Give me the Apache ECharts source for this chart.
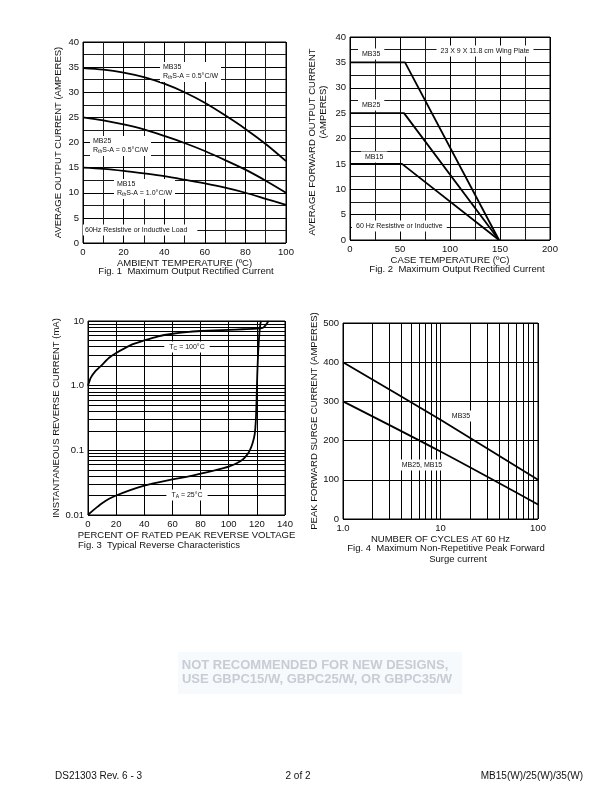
<!DOCTYPE html>
<html><head><meta charset="utf-8">
<script src="https://cdn.jsdelivr.net/npm/echarts@6/dist/echarts.min.js"></script>
<style>html,body{margin:0;padding:0;background:#fff}#c{width:612px;height:792px}</style>
</head><body><div id="c"></div>
<script>
// ---------- Fig. 1 data ----------
const fig1Temp = [0, 10, 20, 30, 40, 50, 60, 70, 80, 90, 100];
const fig1MB35 = [34.8, 34.5, 33.9, 33.0, 31.7, 30.0, 27.9, 25.4, 22.7, 19.7, 16.3];
const fig1MB25 = [25.0, 24.4, 23.6, 22.6, 21.3, 19.9, 18.3, 16.5, 14.6, 12.4, 10.0];
const fig1MB15 = [15.0, 14.75, 14.35, 13.85, 13.3, 12.6, 11.85, 11.0, 10.0, 8.8, 7.6];
// ---------- Fig. 2 data ----------
const fig2MB35 = [[0, 35], [55, 35], [149, 0]];
const fig2MB25 = [[0, 25], [54, 25], [149, 0]];
const fig2MB15 = [[0, 15], [52, 15], [149, 0]];
// ---------- Fig. 3 data ----------
const fig3Tc100 = [[0, 1.0], [2, 1.33], [5, 1.65], [10, 2.1], [15, 2.7], [20, 3.2], [30, 4.2], [40, 5.0],
  [50, 5.8], [60, 6.35], [70, 6.75], [80, 7.0], [90, 7.15], [100, 7.3], [110, 7.45], [120, 7.6],
  [124, 7.8], [126, 8.5], [128.3, 10]];
const fig3Ta25 = [[0, 0.01], [3, 0.0115], [6, 0.013], [10, 0.0152], [15, 0.0178], [20, 0.02], [30, 0.0243],
  [40, 0.0285], [50, 0.032], [60, 0.0355], [70, 0.039], [80, 0.0435], [90, 0.049], [100, 0.056],
  [105, 0.062], [110, 0.072], [113, 0.085], [115, 0.1], [117, 0.13], [118.5, 0.18], [119.3, 0.3],
  [119.8, 0.6], [120.3, 1.5], [121, 3.5], [121.8, 6.5], [122.5, 9], [123, 10]];
const fig3MinorY = [0.02, 0.03, 0.04, 0.05, 0.06, 0.07, 0.08, 0.09,
  0.2, 0.3, 0.4, 0.5, 0.6, 0.7, 0.8, 0.9, 2, 3, 4, 5, 6, 7, 8, 9];
const fig3TickLabels = ['0.01', '0.1', '1.0', '10'];
// ---------- Fig. 4 data ----------
const fig4MB35 = [[1, 400], [10, 253], [100, 100]];
const fig4MB25 = [[1, 300], [10, 172], [100, 37]];
const fig4MinorX = [2, 3, 4, 5, 6, 7, 8, 9, 20, 30, 40, 50, 60, 70, 80, 90];
const fig4TickLabels = ['1.0', '10', '100'];

const FONT = 'Liberation Sans, Arial, Helvetica, sans-serif';
const INK = '#111';
const chart = echarts.init(document.getElementById('c'), null, { renderer: 'canvas' });

const gridLine = { show: true, lineStyle: { color: '#000', width: 1 } };
const minorLine = { show: true, lineStyle: { color: '#1a1a1a', width: 1 } };
const lbl = { color: INK, fontSize: 9.5, fontFamily: FONT };
const nameStyle = { color: INK, fontSize: 9.5, fontFamily: FONT };

function baseAxis(extra) {
  return Object.assign({
    axisLine: { show: false }, axisTick: { show: false },
    splitLine: gridLine, axisLabel: Object.assign({ margin: 4 }, lbl),
    nameTextStyle: nameStyle, nameLocation: 'middle'
  }, extra);
}
function curve(data, xi, extra) {
  return Object.assign({
    type: 'line', xAxisIndex: xi, yAxisIndex: xi, data: data, showSymbol: false,
    lineStyle: { color: '#000', width: 1.8 }, silent: true, animation: false, z: 5
  }, extra);
}
function minorMarks(list, key) {
  return {
    silent: true, symbol: ['none', 'none'], animation: false,
    label: { show: false },
    lineStyle: { color: '#000', width: 1, type: 'solid' },
    emphasis: { disabled: true },
    data: list.map(v => ({ [key]: v }))
  };
}
function boxText(text, x, y, opts) {
  return {
    type: 'text', z: 100,
    style: Object.assign({
      text: text, x: x, y: y, fill: INK, fontSize: 7, fontFamily: FONT,
      backgroundColor: '#fff', padding: [1, 3], lineHeight: 9,
      align: 'left', verticalAlign: 'middle',
      rich: { s: { fontSize: 5, fontFamily: FONT, fill: INK, padding: [3, 0, 0, 0], lineHeight: 9 } }
    }, opts || {})
  };
}
function plainText(text, x, y, opts) {
  return {
    type: 'text', z: 100,
    style: Object.assign({ text: text, x: x, y: y, fill: INK, fontSize: 9.5, fontFamily: FONT,
      align: 'center', verticalAlign: 'middle' }, opts || {})
  };
}
function vertText(text, x, y) {
  return {
    type: 'text', z: 100, x: x, y: y, rotation: Math.PI / 2,
    style: { text: text, x: 0, y: 0, fill: INK, fontSize: 9.5, fontFamily: FONT,
      align: 'center', verticalAlign: 'middle' }
  };
}

const option = {
  backgroundColor: '#fff',
  animation: false,
  grid: [
    { left: 83, top: 42, width: 203, height: 201, show: true, borderColor: '#000', borderWidth: 1 },
    { left: 350, top: 37, width: 200, height: 203, show: true, borderColor: '#000', borderWidth: 1 },
    { left: 88, top: 321, width: 197, height: 194, show: true, borderColor: '#000', borderWidth: 1 },
    { left: 343, top: 323, width: 195, height: 196, show: true, borderColor: '#000', borderWidth: 1 }
  ],
  xAxis: [
    baseAxis({ gridIndex: 0, type: 'value', min: 0, max: 100, interval: 20,
      minorTick: { show: false, splitNumber: 2 }, minorSplitLine: minorLine,
      name: 'AMBIENT TEMPERATURE (ºC)', nameGap: 12 }),
    baseAxis({ gridIndex: 1, type: 'value', min: 0, max: 200, interval: 50,
      minorTick: { show: false, splitNumber: 2 }, minorSplitLine: minorLine,
      name: 'CASE TEMPERATURE (ºC)', nameGap: 12 }),
    baseAxis({ gridIndex: 2, type: 'value', min: 0, max: 140, interval: 20,
      name: 'PERCENT OF RATED PEAK REVERSE VOLTAGE', nameGap: 13 }),
    baseAxis({ gridIndex: 3, type: 'log', logBase: 10, min: 1, max: 100,
      axisLabel: Object.assign({ margin: 4, formatter: v => fig4TickLabels[Math.round(Math.log10(v))] }, lbl),
      name: 'NUMBER OF CYCLES AT 60 Hz', nameGap: 12 })
  ],
  yAxis: [
    baseAxis({ gridIndex: 0, type: 'value', min: 0, max: 40, interval: 5,
      minorTick: { show: false, splitNumber: 2 }, minorSplitLine: minorLine,
      name: 'AVERAGE OUTPUT CURRENT (AMPERES)', nameGap: 20 }),
    baseAxis({ gridIndex: 1, type: 'value', min: 0, max: 40, interval: 5,
      minorTick: { show: false, splitNumber: 2 }, minorSplitLine: minorLine }),
    baseAxis({ gridIndex: 2, type: 'log', logBase: 10, min: 0.01, max: 10,
      axisLabel: Object.assign({ margin: 4, formatter: v => fig3TickLabels[Math.round(Math.log10(v)) + 2] }, lbl),
      name: 'INSTANTANEOUS REVERSE CURRENT (mA)', nameGap: 24 }),
    baseAxis({ gridIndex: 3, type: 'value', min: 0, max: 500, interval: 100,
      name: 'PEAK FORWARD SURGE CURRENT (AMPERES)', nameGap: 24 })
  ],
  series: [
    curve(fig1Temp.map((t, i) => [t, fig1MB35[i]]), 0, { smooth: 0.3 }),
    curve(fig1Temp.map((t, i) => [t, fig1MB25[i]]), 0, { smooth: 0.3 }),
    curve(fig1Temp.map((t, i) => [t, fig1MB15[i]]), 0, { smooth: 0.3 }),
    curve(fig2MB35, 1),
    curve(fig2MB25, 1),
    curve(fig2MB15, 1),
    curve(fig3Tc100, 2, { smooth: 0.2, markLine: minorMarks(fig3MinorY, 'yAxis'), z: 5 }),
    curve(fig3Ta25, 2, { smooth: 0.2 }),
    curve(fig4MB35, 3, { smooth: 0.3, markLine: minorMarks(fig4MinorX, 'xAxis') }),
    curve(fig4MB25, 3, { smooth: 0.3 })
  ],
  graphic: [
    // Fig 1 labels
    boxText('MB35\nR{s|th}S-A = 0.5°C/W', 160, 72),
    boxText('MB25\nR{s|th}S-A = 0.5°C/W', 90, 146),
    boxText('MB15\nR{s|th}S-A = 1.0°C/W', 114, 189),
    boxText('60Hz Resistive or Inductive Load', 83, 230, { padding: [1, 10, 1, 2] }),
    plainText('Fig. 1  Maximum Output Rectified Current', 186, 271),
    // Fig 2 labels
    boxText('23 X 9 X 11.8 cm Wing Plate', 485, 51, { align: 'center', padding: [1, 4] }),
    boxText('MB35', 358, 54, { padding: [1, 4] }),
    boxText('MB25', 358, 105, { padding: [1, 4] }),
    boxText('MB15', 361, 157, { padding: [1, 4] }),
    boxText('60 Hz Resistive or Inductive', 352, 226, { padding: [1, 4] }),
    vertText('AVERAGE FORWARD OUTPUT CURRENT', 312, 142),
    vertText('(AMPERES)', 323, 112),
    plainText('Fig. 2  Maximum Output Rectified Current', 457, 269),
    // Fig 3 labels
    boxText('T{s|C} = 100°C', 187, 347, { align: 'center', padding: [1, 5] }),
    boxText('T{s|A} = 25°C', 187, 495, { align: 'center', padding: [1, 5] }),
    plainText('Fig. 3  Typical Reverse Characteristics', 78, 545, { align: 'left' }),
    // Fig 4 labels
    boxText('MB35', 461, 416, { align: 'center', padding: [1, 4] }),
    boxText('MB25, MB15', 422, 465, { align: 'center', padding: [1, 4] }),
    plainText('Fig. 4  Maximum Non-Repetitive Peak Forward', 446, 548),
    plainText('Surge current', 458, 559),
    // watermark
    { type: 'rect', z: 90, shape: { x: 178, y: 652, width: 284, height: 42 }, style: { fill: '#f7fafc' } },
    plainText('NOT RECOMMENDED FOR NEW DESIGNS,', 315, 665, { fill: '#c8cdd5', fontSize: 13, fontWeight: 'bold' }),
    plainText('USE GBPC15/W, GBPC25/W, OR GBPC35/W', 317, 679, { fill: '#c8cdd5', fontSize: 13, fontWeight: 'bold' }),
    // footer
    plainText('DS21303 Rev. 6 - 3', 55, 776, { align: 'left', fontSize: 10 }),
    plainText('2 of 2', 298, 776, { fontSize: 10 }),
    plainText('MB15(W)/25(W)/35(W)', 583, 776, { align: 'right', fontSize: 10 })
  ]
};
chart.setOption(option);
</script>
</body></html>
